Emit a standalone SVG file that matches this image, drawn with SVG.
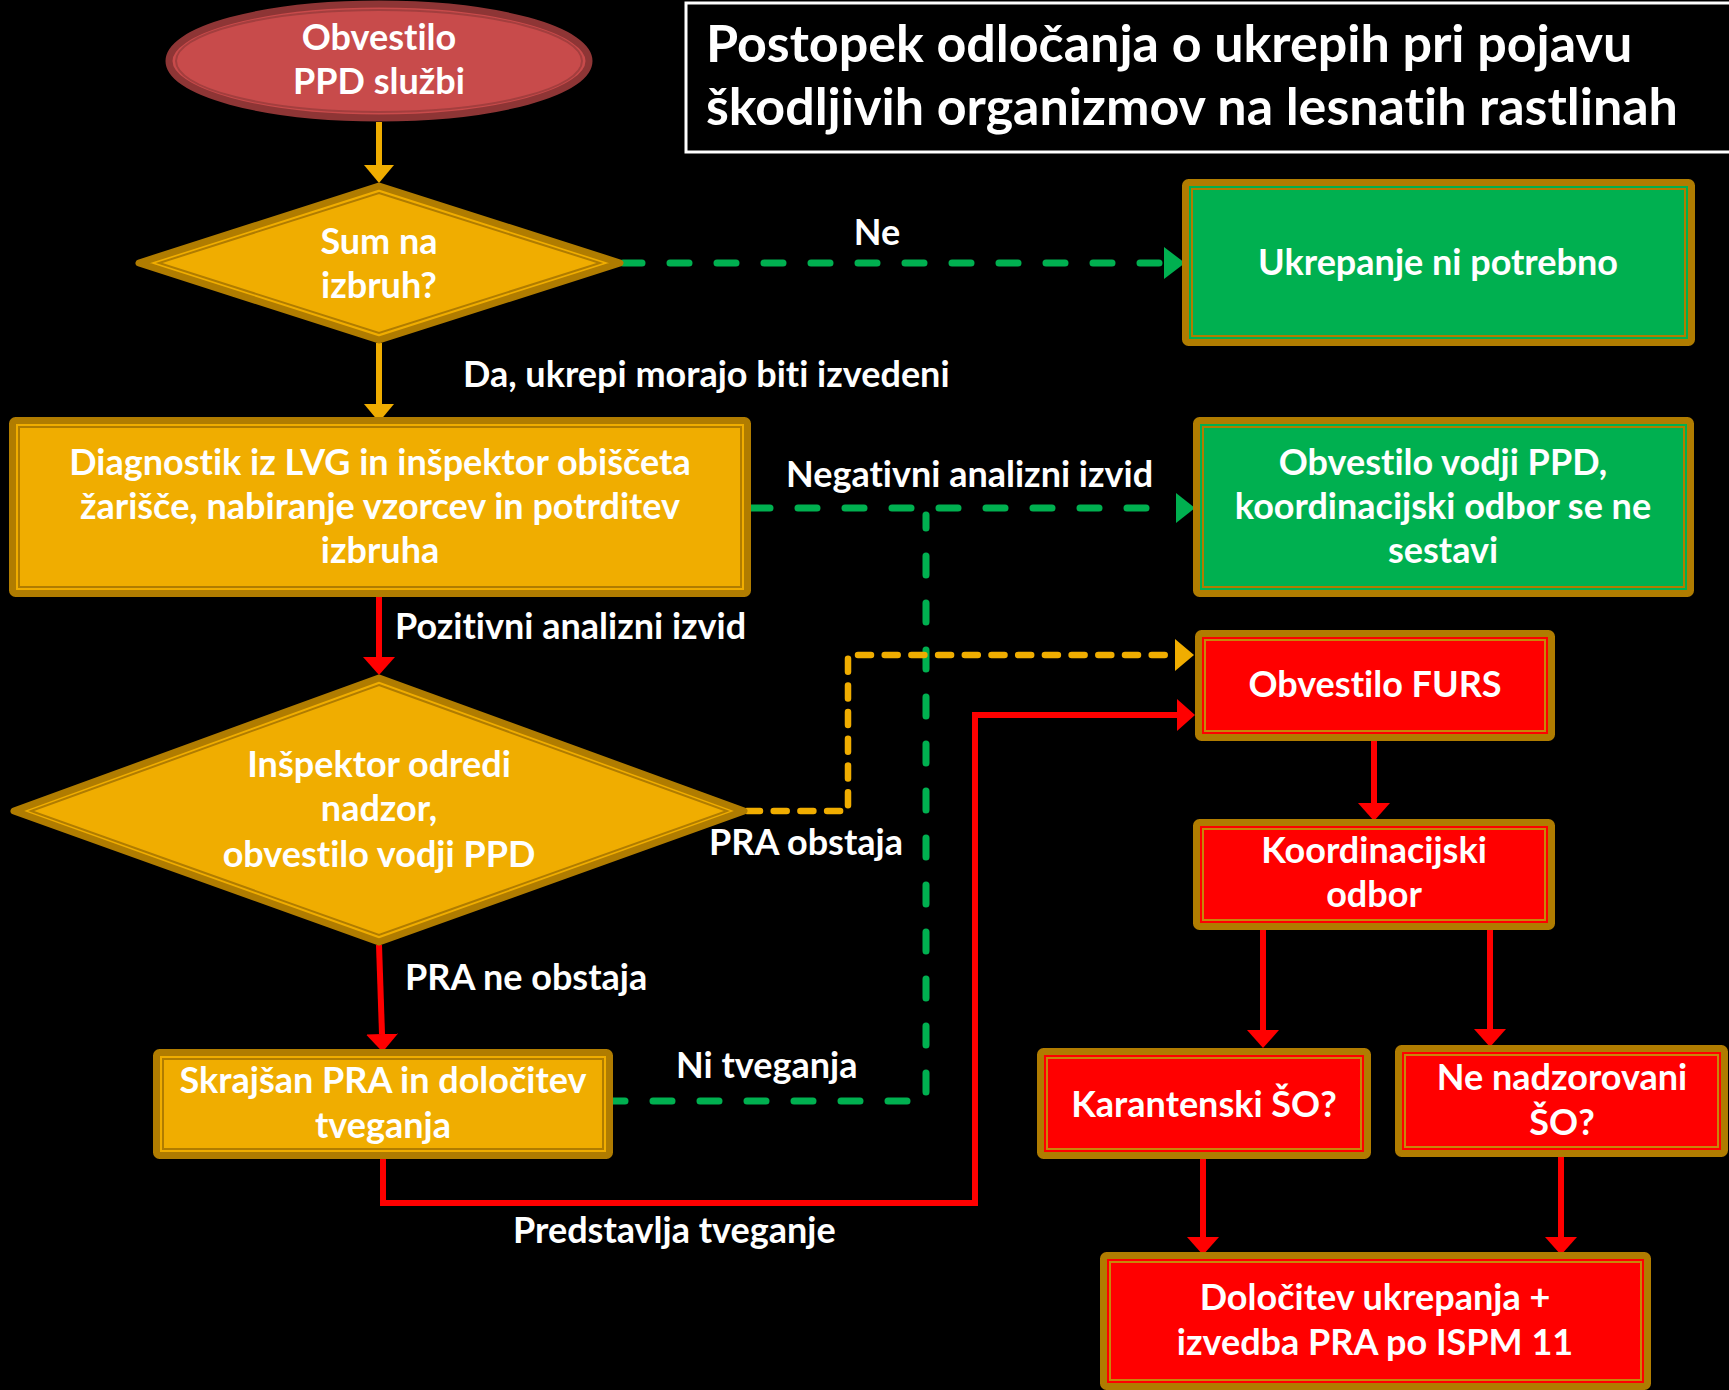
<svg xmlns="http://www.w3.org/2000/svg" width="1729" height="1390" viewBox="0 0 1729 1390">
<defs>
<style>
.t,.l,.title{font-family:Lato,"Open Sans","Liberation Sans",sans-serif;font-weight:700;fill:#fff;font-variant-ligatures:none;font-feature-settings:"liga" 0,"clig" 0}
.t{font-size:36px;text-anchor:middle}
.l{font-size:36px}
.title{font-size:52px}
.bo{fill:none;stroke:#B07C00;stroke-width:7}
.bi{fill:none;stroke:#B07C00;stroke-width:2}
.bir{fill:none;stroke:#C8860A;stroke-width:2}
.fo{fill:#F0AD00}
.fg{fill:#00B050}
.fr{fill:#FF0000}
.co{fill:none;stroke:#F0AD00;stroke-width:6}
.cr{fill:none;stroke:#FF0000;stroke-width:6}
.cgd{fill:none;stroke:#00B050;stroke-width:7;stroke-dasharray:19 28;stroke-linecap:round}
.cod{fill:none;stroke:#F0AD00;stroke-width:6.5;stroke-dasharray:13 13.7;stroke-linecap:round}
</style>
<marker id="ao" markerUnits="userSpaceOnUse" markerWidth="20" markerHeight="32" refX="0" refY="16" orient="auto"><path d="M0,1 L18,16 L0,31 z" fill="#F0AD00"/></marker>
<marker id="ar" markerUnits="userSpaceOnUse" markerWidth="20" markerHeight="34" refX="0" refY="17" orient="auto"><path d="M0,1 L18,17 L0,33 z" fill="#FF0000"/></marker>
</defs>
<rect width="1729" height="1390" fill="#000"/>

<g id="title">
<rect x="686" y="3" width="1100" height="149" fill="none" stroke="#fff" stroke-width="3"/>
<text class="title" x="706" y="62">Postopek odločanja o ukrepih pri pojavu</text>
<text class="title" x="706" y="125">škodljivih organizmov na lesnatih rastlinah</text>
</g>

<g id="connectors">
<path class="co" d="M379,122 L379,165" marker-end="url(#ao)"/>
<path class="co" d="M379,343 L379,404" marker-end="url(#ao)"/>
<path class="cgd" d="M623,263 L1160,263"/>
<path d="M1164,247 L1185,263 L1164,279 z" fill="#00B050"/>
<path class="cgd" d="M751,508 L1173,508"/>
<path d="M1176,493 L1195,508 L1176,523 z" fill="#00B050"/>
<path class="cgd" d="M606,1101 L926,1101 L926,515"/>
<path class="cr" d="M379,597 L379,657" marker-end="url(#ar)"/>
<path class="cod" d="M747,811 L848,811 L848,655 L1168,655"/>
<path d="M1175,639 L1194,655 L1175,671 z" fill="#F0AD00"/>
<path class="cr" d="M379,945 L382,1034" marker-end="url(#ar)"/>
<path class="cr" d="M383,1153 L383,1203 L975,1203 L975,715 L1177,715" marker-end="url(#ar)"/>
<path class="cr" d="M1374,741 L1374,803" marker-end="url(#ar)"/>
<path class="cr" d="M1263,930 L1263,1030" marker-end="url(#ar)"/>
<path class="cr" d="M1490,930 L1490,1029" marker-end="url(#ar)"/>
<path class="cr" d="M1203,1159 L1203,1237" marker-end="url(#ar)"/>
<path class="cr" d="M1561,1157 L1561,1237" marker-end="url(#ar)"/>
</g>

<g id="labels">
<text class="t" x="877" y="245">Ne</text>
<text class="l" x="463" y="387">Da, ukrepi morajo biti izvedeni</text>
<text class="l" x="786" y="487">Negativni analizni izvid</text>
<text class="l" x="395" y="639">Pozitivni analizni izvid</text>
<text class="l" x="709" y="855">PRA obstaja</text>
<text class="l" x="405" y="990">PRA ne obstaja</text>
<text class="l" x="676" y="1078">Ni tveganja</text>
<text class="l" x="513" y="1243">Predstavlja tveganje</text>
</g>

<g id="n-start">
<ellipse cx="379" cy="61" rx="210" ry="57" fill="#C84B4B" stroke="#8E3535" stroke-width="7"/>
<ellipse cx="379" cy="61" rx="203" ry="51" fill="none" stroke="#A33E3E" stroke-width="2"/>
<text class="t" x="379" y="50">Obvestilo</text>
<text class="t" x="379" y="94">PPD službi</text>
</g>

<g id="n-sum">
<polygon class="fo" points="379,186 620,263 379,340 139,263" stroke="#B07C00" stroke-width="7" stroke-linejoin="round"/>
<polygon class="bi" points="379,193 600,263 379,333 159,263"/>
<text class="t" x="379" y="254">Sum na</text>
<text class="t" x="379" y="298">izbruh?</text>
</g>

<g id="n-ukrepanje">
<rect class="fg" x="1185.5" y="182.5" width="506" height="160" rx="3"/>
<rect class="bo" x="1185.5" y="182.5" width="506" height="160" rx="3"/>
<rect class="bi" x="1192" y="189" width="493" height="147"/>
<text class="t" x="1438" y="275">Ukrepanje ni potrebno</text>
</g>

<g id="n-diagnostik">
<rect class="fo" x="12.5" y="420.5" width="735" height="173" rx="3"/>
<rect class="bo" x="12.5" y="420.5" width="735" height="173" rx="3"/>
<rect class="bi" x="19" y="427" width="722" height="160"/>
<text class="t" x="380" y="475">Diagnostik iz LVG in inšpektor obiščeta</text>
<text class="t" x="380" y="519">žarišče, nabiranje vzorcev in potrditev</text>
<text class="t" x="380" y="563">izbruha</text>
</g>

<g id="n-obvestilo-vodji">
<rect class="fg" x="1196.5" y="420.5" width="494" height="173" rx="3"/>
<rect class="bo" x="1196.5" y="420.5" width="494" height="173" rx="3"/>
<rect class="bi" x="1203" y="427" width="481" height="160"/>
<text class="t" x="1443" y="475">Obvestilo vodji PPD,</text>
<text class="t" x="1443" y="519">koordinacijski odbor se ne</text>
<text class="t" x="1443" y="563">sestavi</text>
</g>

<g id="n-inspektor">
<polygon class="fo" points="379,678 744,811 379,942 14,811" stroke="#B07C00" stroke-width="7" stroke-linejoin="round"/>
<polygon class="bi" points="379,685 727,811 379,935 31,811"/>
<text class="t" x="379" y="777">Inšpektor odredi</text>
<text class="t" x="379" y="821">nadzor,</text>
<text class="t" x="379" y="867">obvestilo vodji PPD</text>
</g>

<g id="n-furs">
<rect class="fr" x="1198.5" y="633.5" width="353" height="104" rx="3"/>
<rect class="bo" x="1198.5" y="633.5" width="353" height="104" rx="3"/>
<rect class="bir" x="1205" y="640" width="340" height="91"/>
<text class="t" x="1375" y="697">Obvestilo FURS</text>
</g>

<g id="n-koordinacijski">
<rect class="fr" x="1196.5" y="822.5" width="355" height="104" rx="3"/>
<rect class="bo" x="1196.5" y="822.5" width="355" height="104" rx="3"/>
<rect class="bir" x="1203" y="829" width="342" height="91"/>
<text class="t" x="1374" y="863">Koordinacijski</text>
<text class="t" x="1374" y="907">odbor</text>
</g>

<g id="n-skrajsan">
<rect class="fo" x="156.5" y="1052.5" width="453" height="103" rx="3"/>
<rect class="bo" x="156.5" y="1052.5" width="453" height="103" rx="3"/>
<rect class="bi" x="163" y="1059" width="440" height="90"/>
<text class="t" x="383" y="1093">Skrajšan PRA in določitev</text>
<text class="t" x="383" y="1138">tveganja</text>
</g>

<g id="n-karantenski">
<rect class="fr" x="1040.5" y="1051.5" width="327" height="104" rx="3"/>
<rect class="bo" x="1040.5" y="1051.5" width="327" height="104" rx="3"/>
<rect class="bir" x="1047" y="1058" width="314" height="91"/>
<text class="t" x="1204" y="1117">Karantenski ŠO?</text>
</g>

<g id="n-nenadzorovani">
<rect class="fr" x="1398.5" y="1048.5" width="326" height="105" rx="3"/>
<rect class="bo" x="1398.5" y="1048.5" width="326" height="105" rx="3"/>
<rect class="bir" x="1405" y="1055" width="313" height="92"/>
<text class="t" x="1562" y="1090">Ne nadzorovani</text>
<text class="t" x="1562" y="1135">ŠO?</text>
</g>

<g id="n-dolocitev">
<rect class="fr" x="1103.5" y="1255.5" width="544" height="131" rx="3"/>
<rect class="bo" x="1103.5" y="1255.5" width="544" height="131" rx="3"/>
<rect class="bir" x="1110" y="1262" width="531" height="118"/>
<text class="t" x="1375" y="1310">Določitev ukrepanja +</text>
<text class="t" x="1375" y="1355">izvedba PRA po ISPM 11</text>
</g>
</svg>
